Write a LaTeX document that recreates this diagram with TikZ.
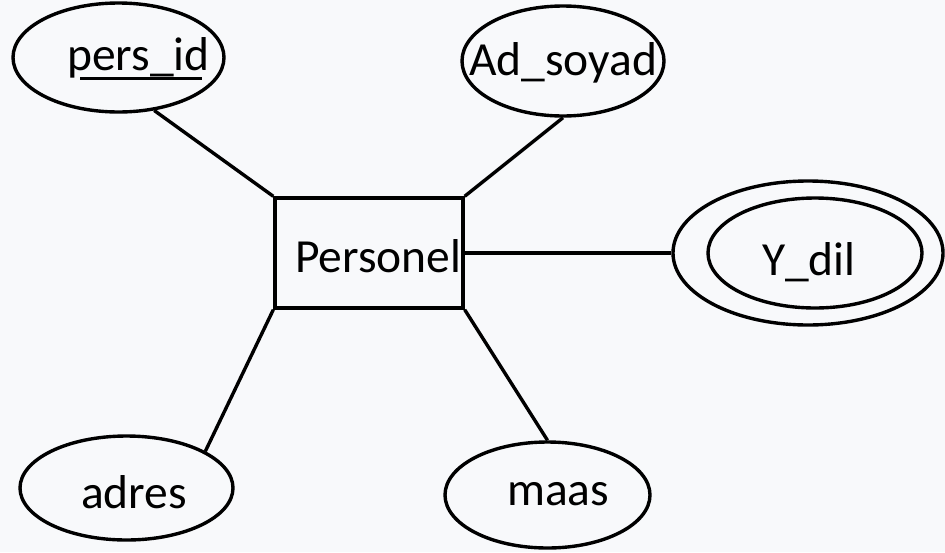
\documentclass[tikz,border=0pt]{standalone}
\usepackage{fontspec}
\setmainfont{Carlito}
\usetikzlibrary{shapes.geometric}
\definecolor{pagebg}{RGB}{248,249,251}
\begin{document}
\begin{tikzpicture}[x=1pt,y=-1pt,
  link/.style={line width=3.4pt, black},
  entbox/.style={rectangle, draw, line width=3.4pt, inner sep=0pt},
  attr/.style={ellipse, draw, line width=3.4pt, inner sep=0pt},
  txt/.style={anchor=base west, inner sep=0pt, font=\fontsize{47.5}{52}\selectfont}
]
% page background
\fill[pagebg] (0,0) rectangle (945,552);
\useasboundingbox (0,0) rectangle (945,552);

% entity
\node[entbox, minimum width=188pt, minimum height=110pt] (ent) at (369,253) {};

% attributes
\node[attr, minimum width=211pt, minimum height=109pt] (pid)   at (118.5,57.5) {};
\node[attr, minimum width=202pt, minimum height=110pt] (ad)    at (563,61) {};
\node[attr, minimum width=270pt, minimum height=144pt] (ydilo) at (808,253) {};
\node[attr, minimum width=214pt, minimum height=110pt] (ydili) at (815,253) {};
\node[attr, minimum width=213pt, minimum height=104pt] (adr)   at (126.5,488) {};
\node[attr, minimum width=205pt, minimum height=106pt] (maas)  at (547.5,495) {};

% texts
\node[txt] (tent)  at (295,272) {Personel};
\node[txt] (tpid)  at (67,70)   {pers\_id};
\node[txt] (tad)   at (469,75)  {Ad\_soyad};
\node[txt] (tydil) at (762,275) {Y\_dil};
\node[txt] (tadr)  at (81,508)  {adres};
\node[txt] (tmaas) at (507,505) {maas};

% key attribute underline
\draw[line width=3pt] (80,78) -- (202,78);

% connectors
\draw[link] (ent.north west) -- (pid.-56);
\draw[link] (ent.north east) -- (ad.south);
\draw[link] (ent.east) -- (ydilo.west);
\draw[link] (ent.south west) -- (adr.25);
\draw[link] (ent.south east) -- (maas.north);
\end{tikzpicture}
\end{document}
